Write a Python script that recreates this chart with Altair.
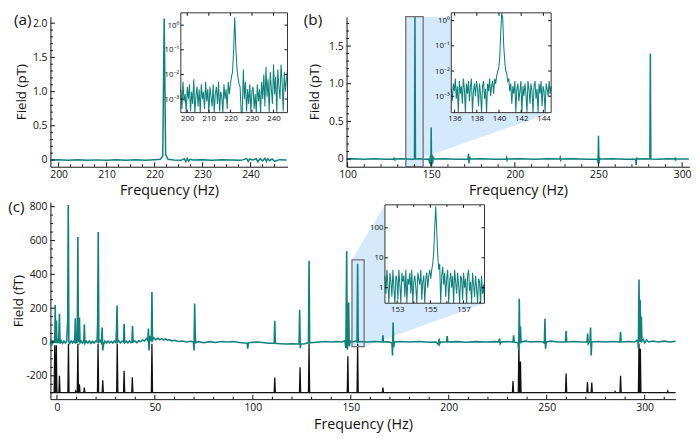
import altair as alt
import pandas as pd

FONT = "Open Sans"
TEAL = "#0f827c"
BLACK = "#111111"
BLUE = "#d4e9fb"
BOXC = "#707070"

# ---------------- panel (a) : (frequency Hz, field pT) ----------------
a_main = [(198.3, 0.0), (200, 0.005), (202, -0.005), (204, 0.003), (206, -0.004), (208, 0.002),
          (210, -0.003), (212, 0.004), (214, -0.002), (216, 0.003), (218, -0.004), (220, 0.005),
          (221.2, 0.01), (221.7, 0.06), (222.0, 2.07), (222.3, 0.08), (222.8, 0.01), (224, 0.0),
          (225.5, -0.005), (226.2, 0.02), (226.5, -0.025), (226.8, 0.025), (227.1, -0.02),
          (227.4, 0.01), (228, 0.0), (230, 0.005), (232, -0.004), (234, 0.003), (236, 0.0),
          (238, -0.005), (239.2, 0.02), (239.5, -0.02), (239.8, 0.015), (240.5, 0.0), (241.2, 0.02),
          (241.5, -0.025), (242, 0.02), (242.5, -0.015), (243, 0.025), (243.3, -0.02), (243.6, 0.02),
          (244, -0.01), (244.5, 0.015), (245, -0.02), (246, 0.005), (247.5, 0.0)]
a_inset_span = (197.0, 246.5)
a_inset_log10 = [-2.6, -3.4, -2.3, -3.1, -2.8, -3.6, -2.5, -3.0, -2.4, -3.5, -2.7, -3.2, -2.2, -3.6,
                 -2.9, -2.5, -3.3, -2.6, -3.6, -2.4, -3.0, -2.7, -3.4, -2.3, -3.1, -2.6, -3.6, -2.5,
                 -2.9, -3.3, -2.4, -3.6, -2.8, -2.5, -3.2, -2.3, -3.5, -2.7, -2.9, -3.6, -2.4, -3.0,
                 -2.6, -3.4, -2.3, -2.8,
                 -2.4, -2.1, -1.9, -1.0, 0.32, -0.9, -1.7, -2.1, -2.4,
                 -2.5, -3.6, -3.6, -1.8, -3.0, -2.3, -3.5, -2.6, -3.2, -2.4, -3.6, -2.7, -2.5, -3.4,
                 -2.8, -3.6, -2.4, -3.1, -2.6, -3.6, -2.3, -3.0, -2.0, -3.3, -1.7, -2.9, -2.2, -3.6,
                 -1.9, -2.6, -3.2, -1.6, -2.8, -2.1, -3.6, -1.8, -2.5, -3.0, -1.6, -2.3, -3.5, -1.9,
                 -2.7, -2.2, -1.8]

# ---------------- panel (b) ----------------
b_main = [(99.5, 0.0), (104, 0.005), (110, -0.004), (116, 0.004), (122, -0.003), (127.6, 0.0),
          (127.9, 0.02), (128.2, -0.02), (128.5, 0.0), (133, 0.004), (138, -0.004), (140.0, 0.0),
          (140.3, 1.9), (140.6, 0.0), (143, 0.003), (146, -0.003), (148.5, 0.0), (149.2, -0.06),
          (149.5, 0.05), (149.8, -0.09), (150.0, 0.42), (150.2, -0.1), (150.5, 0.06), (150.8, -0.06),
          (151.3, 0.02), (152, 0.0), (158, 0.004), (165, -0.004), (172.0, 0.0), (172.3, 0.07),
          (172.6, -0.06), (172.9, 0.03), (173.3, 0.0), (180, 0.003), (188, -0.003), (194.8, 0.0),
          (195.1, 0.02), (195.4, -0.015), (195.7, 0.0), (203, 0.004), (212, -0.003), (220, 0.003),
          (226.8, 0.0), (227.1, 0.02), (227.4, -0.015), (227.7, 0.0), (235, 0.004), (243, -0.003),
          (249.4, 0.0), (249.7, -0.05), (250.0, 0.31), (250.3, -0.06), (250.6, 0.02), (251, 0.0),
          (258, 0.003), (266, -0.003), (272.2, 0.0), (272.5, -0.08), (272.8, 0.02), (273.1, 0.0),
          (278, 0.003), (280.7, 0.0), (281.0, 1.40), (281.3, 0.0), (286, -0.003), (291, 0.004),
          (295.5, 0.0), (295.8, 0.02), (296.1, -0.02), (296.4, 0.0), (304, 0.0)]
b_box = (134.8, 145.2)
b_inset_span = (135.7, 144.7)
b_inset_log10 = [-2.7, -3.2,
                 -2.5, -2.8, -2.3, -3.1, -2.6, -3.7, -2.4, -2.9, -2.6, -3.3, -2.3, -2.7, -3.7, -2.5,
                 -2.9, -2.4, -3.2, -2.6, -2.3, -3.7, -2.8, -2.5, -3.0, -2.4, -2.7, -3.4, -2.5, -2.9,
                 -3.7, -2.6, -2.4, -3.1, -2.7, -3.7, -2.5, -2.8, -2.3, -3.0, -2.6, -2.4, -2.9, -2.3,
                 -2.5, -2.2,
                 -2.0, -1.9, -1.5, -0.5, 0.5, 0.1, -1.0, -1.6, -2.0, -2.1, -2.4, -2.3, -2.8, -2.5, -3.3,
                 -2.6, -2.9, -2.4, -3.7, -2.7, -2.5, -3.2, -2.8, -2.4, -3.7, -2.6, -3.0, -2.5, -2.9,
                 -3.7, -2.4, -2.7, -3.3, -2.5, -2.8, -3.7, -2.6, -2.4, -3.1, -2.7, -3.7, -2.5, -2.9,
                 -2.4, -3.4, -2.6, -2.8, -3.7, -2.5, -2.7, -3.0, -2.4, -2.9, -2.6]

# ---------------- panel (c) : (frequency Hz, field fT) ----------------
c_teal = [(-3.3, -15), (-3.0, 15), (-2.7, -25), (-2.4, 10), (-2.1, -10), (-1.8, 5), (-1.1, 0),
          (-0.85, 218), (-0.6, -5), (-0.25, 127), (0.0, -8), (0.4, 10), (0.9, -5), (1.3, 165),
          (1.6, -10), (2.2, 8), (2.9, -8), (3.6, 6), (4.3, -6), (5.0, 5), (5.5, 120), (5.8, 810),
          (6.1, 0), (6.6, -8), (7.3, 6), (8.0, -6), (8.7, 5), (9.1, -5), (9.4, 140), (9.7, -5),
          (10.4, 0), (10.7, 620), (11.0, 0), (11.2, 10), (11.5, 145), (11.8, -5), (12.4, 6),
          (13.1, -6), (13.7, 0), (14.0, 105), (14.3, -8), (15.0, 5), (15.8, -6), (16.6, 6),
          (17.4, -8), (18.2, 4), (19.0, -6), (19.8, 5), (20.5, 0), (20.8, 120), (21.1, 650),
          (21.4, 0), (22.0, 8), (22.7, -5), (23.1, 86), (23.4, -50), (23.8, -15), (24.5, 5),
          (25.3, -6), (26.1, 6), (26.9, -5), (27.7, 4), (28.5, -6), (29.3, 5), (30.1, -3),
          (30.4, 60), (30.7, 215), (31.0, 0), (31.6, 6), (32.4, -5), (33.2, 5), (34.0, 0),
          (34.3, 108), (34.6, -4), (35.4, 5), (36.2, -5), (37.0, 6), (37.8, -4), (38.3, 0),
          (38.6, 95), (38.9, 0), (39.8, 6), (40.8, -4), (41.8, 8), (42.8, 2), (43.8, 12), (44.8, 6),
          (45.8, 20), (46.4, 10), (46.7, 80), (47.0, -50), (47.3, 35), (47.8, 15), (48.2, 5),
          (48.5, 295), (48.8, 10), (49.5, 25), (50.5, 12), (51.5, 22), (52.5, 14), (53.5, 20),
          (54.5, 12), (55.5, 18), (56.5, 10), (57.5, 14), (58.5, 6), (60, 10), (62, 3), (64, 6),
          (66, 0), (68, 4), (69.7, 0), (70.0, -50), (70.3, 228), (70.6, 40), (70.9, -5), (72, 2),
          (75, -4), (78, 2), (81, -3), (84, 3), (87, 0), (90, 3), (93, -3), (96, -6), (97.1, -8),
          (97.4, -40), (97.7, -5), (99, -3), (102, 0), (105, -3), (108, -8), (110.9, -8),
          (111.2, 125), (111.5, -8), (114, -10), (117, -12), (120, -10), (123.6, -12),
          (123.9, 190), (124.2, -35), (124.5, -12), (126.5, -10), (128.4, -5), (128.7, 480),
          (129.0, -5), (131, -3), (134, 0), (137, 3), (140, 0), (143, 3), (145.5, 0), (147.0, 8),
          (147.5, -35), (147.9, 537), (148.2, -45), (148.6, 20), (148.9, 234), (149.2, -25),
          (149.8, 5), (151, 0), (152.4, 5), (153.2, 0), (153.5, 463), (153.8, 0), (155, 3),
          (158, 0), (162, 3), (166.1, 0), (166.4, 40), (166.7, 0), (168.5, 2), (171.0, -5),
          (171.3, -80), (171.6, 115), (171.9, -30), (172.3, 0), (175, 3), (180, 0), (185, 3),
          (190, -2), (193.5, 0), (194.8, -15), (195.1, 20), (195.4, -10), (195.8, 0), (198.9, 0),
          (199.2, 35), (199.5, 0), (204, 2), (209, -2), (214, 2), (219, 0), (224, 2), (225.5, 0),
          (225.9, 20), (226.3, -10), (226.7, 0), (230, 2), (232.8, 0), (233.1, 40), (233.4, 0),
          (235.4, -5), (235.7, -50), (236.0, 255), (236.3, -10), (236.6, 93), (236.9, 0), (239, 5),
          (242, 0), (245, 3), (248.5, 0), (248.8, -10), (249.1, 137), (249.4, -40), (249.8, 0),
          (252, 5), (256, 0), (259.6, 0), (259.9, 65), (260.2, 0), (264, 3), (268, 0), (270.6, 0),
          (270.9, 50), (271.2, -10), (272.1, 5), (272.4, 86), (272.7, -80), (273.0, 0), (276, 3),
          (280, 0), (284, 3), (287.4, 0), (287.7, 60), (288.0, 0), (292, 3), (295, 0), (296.5, 12),
          (296.8, -40), (297.1, 370), (297.4, 0), (297.7, 250), (298.0, 0), (298.3, 150),
          (298.6, 5), (299.3, 15), (300, -5), (301, 12), (302, 0), (304, 6), (307, 0), (310, 5),
          (313, 0), (315.8, 4)]
c_black_base = -300
c_black_peaks = [(-1.1, -20), (-0.3, -20), (1.3, -200), (5.9, -10), (9.6, -290), (10.7, -10),
                 (11.5, -250), (14.0, -270), (21.0, -10), (23.4, -227), (30.8, -10), (34.3, -170),
                 (38.5, -208), (48.5, -10), (111.2, -210), (124.1, -150), (128.7, -10), (148.5, -85),
                 (153.5, -10), (166.4, -270), (232.8, -231), (235.8, -10), (236.6, -115),
                 (259.9, -187), (270.8, -237), (273.0, -240), (284.9, -293), (287.7, -200),
                 (297.1, -10), (297.8, -40), (311.8, -290)]
c_box = (150.6, 156.8, -28, 485)
c_inset_span = (152.26, 158.27)
c_inset_log10 = [0.4, -0.2, 0.6, 0.1, -0.6, 0.5, 0.2, -0.3, 0.6, 0.0, -0.6, 0.4, 0.3, -0.4, 0.6, 0.1,
                 -0.6, 0.5, 0.2, 0.4, -0.3, 0.6, -0.6, 0.3, 0.1, 0.5, -0.2, 0.6, -0.6, 0.2, 0.4, 0.0,
                 -0.6, 0.5, 0.3, 0.1, 0.6, -0.4, 0.2, 0.4, -0.6, 0.3, 0.5, 0.0, 0.4, 0.6, 0.3,
                 0.6, 0.8, 1.2, 2.0, 2.72, 1.9, 1.1, 0.6, 0.8,
                 -0.6, 0.4, 0.7, 0.1, 0.5, -0.3, 0.3, 0.6, -0.6, 0.2, 0.5, 0.0, 0.4, -0.6, 0.6, 0.2,
                 -0.2, 0.5, 0.1, -0.6, 0.4, 0.3, -0.4, 0.5, 0.0, 0.3, -0.6, 0.4, 0.6, -0.1, 0.2, -0.6,
                 0.5, 0.1, -0.3, 0.4, 0.0, -0.6, 0.3, 0.2, -0.6, 0.4, -0.2, 0.1, -0.6]

# tick values
a_xmaj = [200, 210, 220, 230, 240]
a_xmin = [202.5, 205, 207.5, 212.5, 215, 217.5, 222.5, 225, 227.5, 232.5, 235, 237.5, 242.5, 245]
a_ymaj = [0, 0.5, 1.0, 1.5, 2.0]
b_xmaj = [100, 150, 200, 250, 300]
b_ymaj = [0, 0.5, 1.0, 1.5]
c_xmaj = [0, 50, 100, 150, 200, 250, 300]
c_ymaj = [-200, 0, 200, 400, 600, 800]
ymin_a = [round(0.1 * i, 1) for i in range(1, 21) if i % 5]
ymin_b = [round(0.1 * i, 1) for i in range(1, 19) if i % 5]
xmin_b = [v for v in range(110, 301, 10) if v % 50]
xmin_c = [v for v in range(10, 311, 10) if v % 50]
ymin_c = [v for v in range(-300, 801, 50) if v % 200]

LOGEXPR = ("datum.value == 0 ? '10\u2070' : datum.value == -1 ? '10\u207b\u00b9' : "
           "datum.value == -2 ? '10\u207b\u00b2' : '10\u207b\u00b3'")
DECEXPR = "datum.value == 0 ? '0' : format(datum.value, '.1f')"
CEXPR = "datum.value < 0 ? '-' + format(-datum.value, 'd') : format(datum.value, 'd')"


def pts(pairs):
    return pd.DataFrame(pairs, columns=["f", "v"])


def noise_df(span, logs):
    n = len(logs)
    step = (span[1] - span[0]) / (n - 1)
    return pd.DataFrame({"f": [span[0] + step * i for i in range(n)], "v": logs})


def xaxis(vals, titleY):
    return alt.Axis(values=vals, title="Frequency (Hz)", ticks=False, labelPadding=3,
                    labelFlush=False, grid=False, domainColor=BLACK, domainWidth=1,
                    titleY=titleY, titleBaseline="middle", labelFontSize=10.5,
                    titleFontSize=14.5)


def yaxis(vals, title, titleX, expr):
    return alt.Axis(values=vals, title=title, ticks=False, labelPadding=3.5, grid=False,
                    domainColor=BLACK, domainWidth=1, titleX=titleX, titleBaseline="middle",
                    labelFontSize=10.5, titleFontSize=13.5, labelExpr=expr)


class Group:
    """Shared x/y scales and axes for all layers of one plot area."""

    def __init__(self, xs, ys, ax, ay):
        self.xs, self.ys, self.ax, self.ay = xs, ys, ax, ay

    def X(self, field):
        return alt.X(field, scale=self.xs, axis=self.ax)

    def Y(self, field):
        return alt.Y(field, scale=self.ys, axis=self.ay)

    def line(self, df, color, width):
        return alt.Chart(df).mark_line(color=color, strokeWidth=width).encode(
            x=self.X("f:Q"), y=self.Y("v:Q"))

    def rect(self, x1, x2, y1, y2, **mk):
        d = pd.DataFrame({"x1": [x1], "x2": [x2], "y1": [y1], "y2": [y2]})
        return alt.Chart(d).mark_rect(**mk).encode(
            x=self.X("x1:Q"), x2="x2:Q", y=self.Y("y1:Q"), y2="y2:Q")

    def area(self, xs, ytop, ybot):
        d = pd.DataFrame({"x": xs, "y": ytop, "y2": ybot})
        return alt.Chart(d).mark_area(color=BLUE, opacity=1).encode(
            x=self.X("x:Q"), y=self.Y("y:Q"), y2="y2:Q")

    def rules_x(self, vals, y0, y1):
        return alt.Chart(pd.DataFrame({"t": vals})).mark_rule(
            color=BLACK, strokeWidth=1).encode(
            x=self.X("t:Q"), y=alt.value(y0), y2=alt.value(y1))

    def rules_y(self, vals, x0, x1):
        return alt.Chart(pd.DataFrame({"t": vals})).mark_rule(
            color=BLACK, strokeWidth=1).encode(
            y=self.Y("t:Q"), x=alt.value(x0), x2=alt.value(x1))

    def ticks(self, H, xmaj, xmin, ymaj, ymin):
        return [self.rules_x(xmaj, H, H - 4.5), self.rules_x(xmin, H, H - 2.5),
                self.rules_y(ymaj, 0, 4.5), self.rules_y(ymin, 0, 2.5)]


def label(text, x, y):
    return alt.Chart(pd.DataFrame({"t": [text]})).mark_text(
        align="left", baseline="middle", font=FONT, fontSize=15.5, color=BLACK).encode(
        x=alt.value(x), y=alt.value(y), text="t:N")


def inset(df, xdom, ydom, xr, yr, xvals, yvals, yexpr, H, xminor=()):
    xs = alt.Scale(domain=list(xdom), range=list(xr), nice=False, zero=False)
    ys = alt.Scale(domain=list(ydom), range=list(yr), nice=False, zero=False, clamp=True)
    ax = alt.Axis(orient="bottom", offset=yr[0] - H, values=xvals, ticks=False, domain=False,
                  grid=False, labelFontSize=8, labelPadding=2, labelFlush=False, title=None,
                  zindex=1)
    ay = alt.Axis(orient="left", offset=-xr[0], values=yvals, labelExpr=yexpr, ticks=False,
                  domain=False, grid=False, labelFontSize=8, labelPadding=2, title=None,
                  zindex=1)
    g = Group(xs, ys, ax, ay)
    layers = [g.rect(xdom[0], xdom[1], ydom[0], ydom[1], fill="white"),
              g.line(df, TEAL, 1.05),
              g.rect(xdom[0], xdom[1], ydom[0], ydom[1], fillOpacity=0, stroke="#333333",
                     strokeWidth=1),
              g.rules_x(xvals, yr[0], yr[0] - 3), g.rules_x(xvals, yr[1], yr[1] + 3),
              g.rules_y(yvals, xr[0], xr[0] + 3), g.rules_y(yvals, xr[1], xr[1] - 3)]
    if xminor:
        layers += [g.rules_x(list(xminor), yr[0], yr[0] - 2),
                   g.rules_x(list(xminor), yr[1], yr[1] + 2)]
    return alt.layer(*layers)


# ---------------- build (a) ----------------
WA, HA = 240.2, 152
gA = Group(alt.Scale(domain=[198.3, 247.7], nice=False, zero=False),
           alt.Scale(domain=[-0.098, 2.095], nice=False, zero=False),
           xaxis(a_xmaj, 24.6), yaxis(a_ymaj, "Field (pT)", -29.5, DECEXPR))
mainA = alt.layer(gA.line(pts(a_main), TEAL, 1.5),
                  *gA.ticks(HA, a_xmaj, a_xmin, a_ymaj, ymin_a),
                  label("(a)", -37.0, 3.0))
insA = inset(noise_df(a_inset_span, a_inset_log10), a_inset_span, (-3.55, 0.5),
             (132.1, 240.2), (97.2, -3.9), a_xmaj, [-3, -2, -1, 0], LOGEXPR, HA)
panelA = alt.layer(mainA, insA).resolve_scale(x="independent", y="independent").properties(
    width=WA, height=HA)

# ---------------- build (b) ----------------
WB, HB = 347.3, 152
gB = Group(alt.Scale(domain=[99.4, 304.3], nice=False, zero=False),
           alt.Scale(domain=[-0.102, 1.89], nice=False, zero=False),
           xaxis(b_xmaj, 24.6), yaxis(b_ymaj, "Field (pT)", -32.4, DECEXPR))
mainB = alt.layer(gB.rect(b_box[0], b_box[1], -0.102, 1.89, fill=BLUE),
                  gB.area([b_box[1], 221.7], [1.89, 1.89], [0.02, 0.616]),
                  gB.line(pts(b_main), TEAL, 1.5),
                  gB.rect(b_box[0], b_box[1], -0.102, 1.89, fillOpacity=0, stroke=BOXC,
                          strokeWidth=1.3),
                  *gB.ticks(HB, b_xmaj, xmin_b, b_ymaj, ymin_b),
                  label("(b)", -43.3, 3.0))
insB = inset(noise_df(b_inset_span, b_inset_log10), b_inset_span, (-3.65, 0.31),
             (106.1, 207.3), (97.2, -3.9), [136, 138, 140, 142, 144], [-3, -2, -1, 0],
             LOGEXPR, HB)
panelB = alt.layer(mainB, insB).resolve_scale(x="independent", y="independent").properties(
    width=WB, height=HB)

# ---------------- build (c) ----------------
WC, HC = 633.4, 199.5
gC = Group(alt.Scale(domain=[-3.3, 315.8], nice=False, zero=False),
           alt.Scale(domain=[-338, 826], nice=False, zero=False),
           xaxis(c_xmaj, 25.7), yaxis(c_ymaj, "Field (fT)", -32.0, CEXPR))
black_pts = [(-3.3, c_black_base)]
for f, top in c_black_peaks:
    black_pts += [(f - 0.3, c_black_base), (f, top), (f + 0.3, c_black_base)]
black_pts.append((315.8, c_black_base))
mainC = alt.layer(gC.area([150.6, 156.8, 167.4, 218.3], [485, 605.2, 810.8, 810.8],
                          [-28, -28, 16.3, 229.1]),
                  gC.line(pts(black_pts), BLACK, 1.3),
                  gC.line(pts(c_teal), TEAL, 1.6),
                  gC.rect(c_box[0], c_box[1], c_box[2], c_box[3], fillOpacity=0, stroke=BOXC,
                          strokeWidth=1.3),
                  *gC.ticks(HC, c_xmaj, xmin_c, c_ymaj, ymin_c),
                  label("(c)", -42.7, 4.9))
insC = inset(noise_df(c_inset_span, c_inset_log10), c_inset_span, (-0.52, 2.77),
             (338.9, 439.8), (102.3, 2.6), [153, 155, 157], [0, 1, 2],
             "datum.value == 0 ? '1' : datum.value == 1 ? '10' : '100'", HC,
             xminor=(154, 156, 158))
panelC = alt.layer(mainC, insC).resolve_scale(x="independent", y="independent").properties(
    width=WC, height=HC)

top = alt.hconcat(panelA, panelB, spacing=13)
chart = alt.vconcat(top, panelC, spacing=1).properties(
    padding={"left": 0, "top": 0, "right": 0, "bottom": 0}
).configure(font=FONT).configure_axis(
    labelFont=FONT, titleFont=FONT, labelColor=BLACK, titleColor=BLACK,
    titleFontWeight="normal").configure_view(stroke=None)

chart.save("out.html", embed_options={"renderer": "svg", "actions": False})
